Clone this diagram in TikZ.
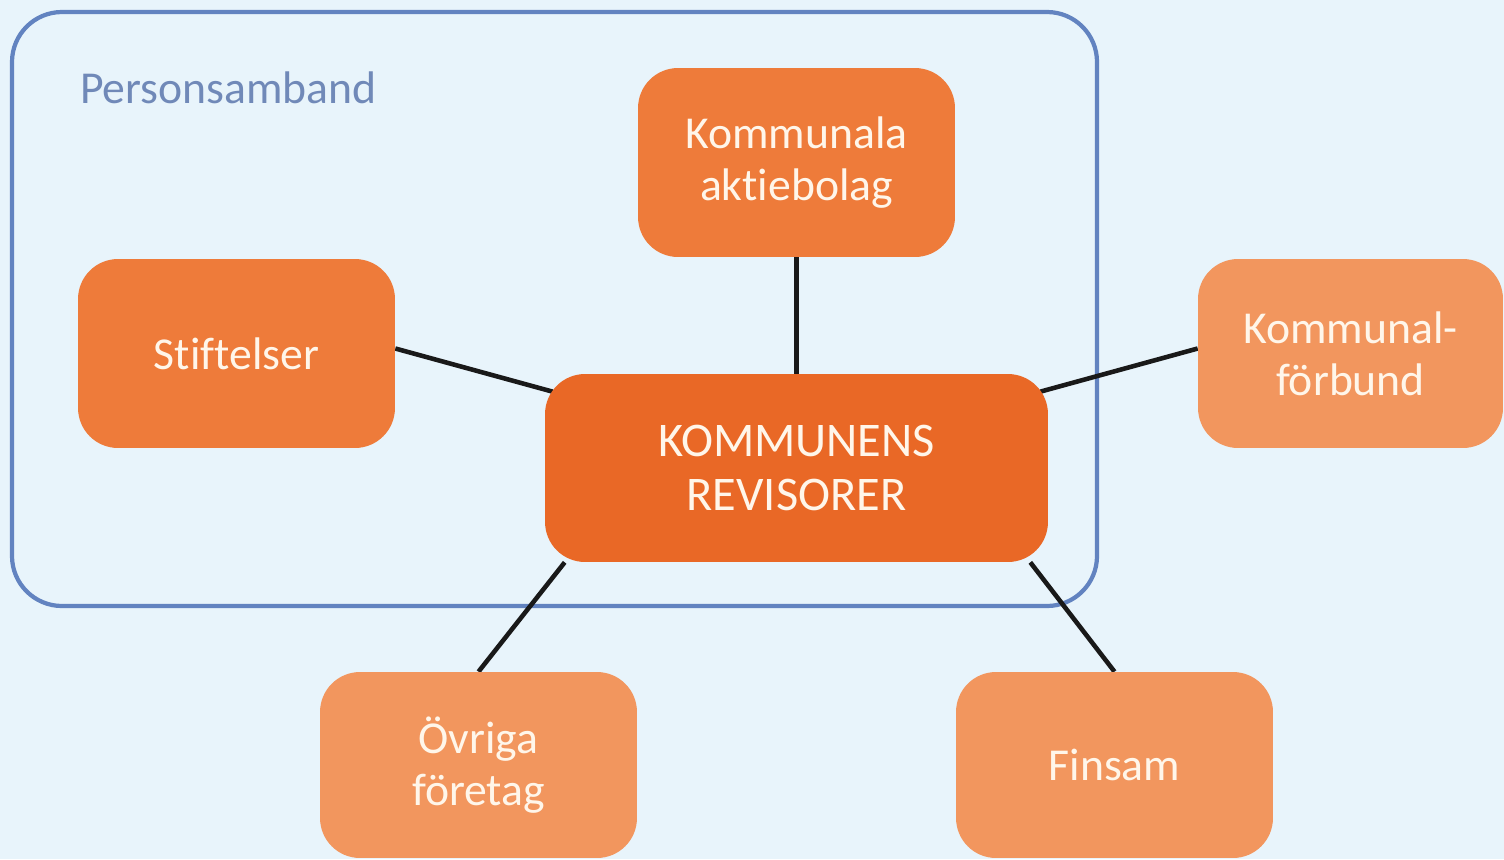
\documentclass[tikz,border=0pt]{standalone}
\usepackage{fontspec}
\setmainfont{Carlito}[Ligatures={NoCommon}]
\usepackage{tikz}
\usetikzlibrary{positioning, calc}
\definecolor{bgblue}{HTML}{E8F4FB}
\definecolor{frameblue}{HTML}{6283C0}
\definecolor{labelblue}{HTML}{7089B8}
\definecolor{midorange}{HTML}{EE7B3A}
\definecolor{darkorange}{HTML}{E96826}
\definecolor{lightorange}{HTML}{F2965E}
\definecolor{boxtext}{HTML}{FFF6EA}
\pgfdeclarelayer{back}
\pgfdeclarelayer{lines}
\pgfsetlayers{back,lines,main}
\tikzstyle{box} = [rectangle, rounded corners=0.8cm, minimum width=6.34cm, minimum height=3.78cm, align=center, text=boxtext, font=\fontsize{26}{29.5}\selectfont, inner sep=0pt]
\tikzstyle{innerbox} = [box, fill=midorange]
\tikzstyle{outerbox} = [box, fill=lightorange]
\tikzstyle{mainbox} = [box, fill=darkorange, minimum width=10.06cm, minimum height=3.76cm, font=\fontsize{27.5}{31}\selectfont]
\tikzstyle{link} = [line width=2.6pt, draw=black!90]

\begin{document}
\begin{tikzpicture}[x=0.02cm, y=-0.02cm]
\begin{pgfonlayer}{back}
\fill[bgblue] (0,0) rectangle (1504,859);
\draw[frameblue, line width=2.4pt, rounded corners=1cm] (12,12) rectangle (1097,606);
\end{pgfonlayer}
\useasboundingbox (0,0) rectangle (1504,859);

\node (title) [text=labelblue, font=\fontsize{26}{28.5}\selectfont, anchor=base west] at (74,103) {Personsamband};

\node (rev) [mainbox] at (796.5,468) {KOMMUNENS\\REVISORER};
\node (akt) [innerbox] at (796.5,162.5) {Kommunala\\aktiebolag};
\node (stift) [innerbox] at (236.5,353.5) {Stiftelser};
\node (forb) [outerbox, minimum width=6.1cm] at (1350.5,353.5) {Kommunal-\\förbund};
\node (ovr) [outerbox, minimum height=3.72cm] at (478.5,765) {Övriga\\företag};
\node (fin) [outerbox, minimum height=3.72cm] at (1114.5,765) {Finsam};

\begin{pgfonlayer}{lines}
\draw [link] ([yshift=0.1cm]stift.east) -- ($(rev.north west)+(8,18)$);
\draw [link] (akt.south) -- (rev.north);
\draw [link] ($(rev.north east)+(-8,18)$) -- ([yshift=0.1cm]forb.west);
\draw [link] ($(rev.south west)+(20,0)$) -- (ovr.north);
\draw [link] ($(rev.south east)+(-18,0)$) -- (fin.north);
\end{pgfonlayer}
\end{tikzpicture}
\end{document}
